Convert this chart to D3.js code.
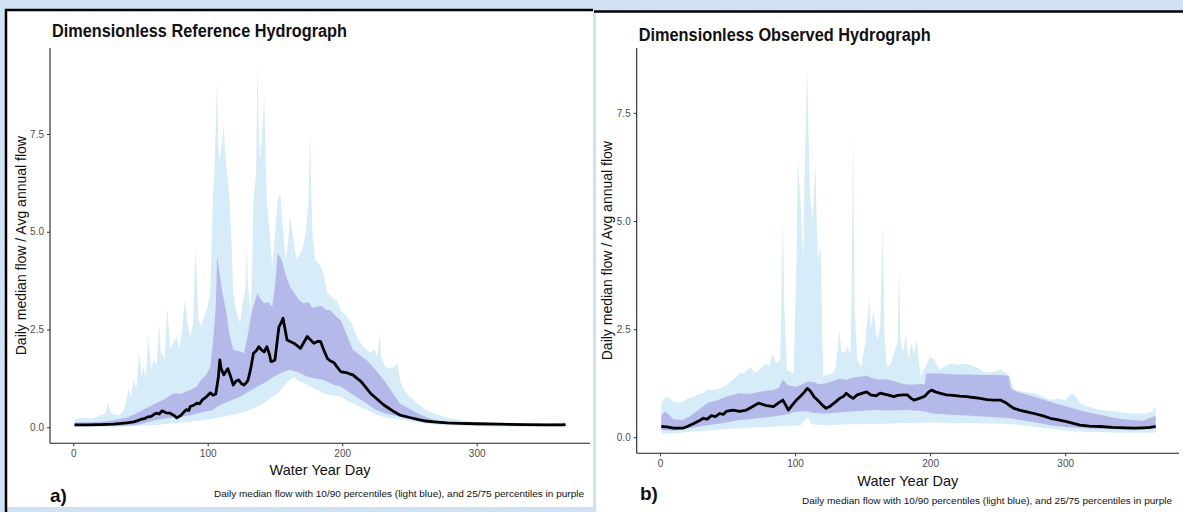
<!DOCTYPE html>
<html>
<head>
<meta charset="utf-8">
<script src="https://cdn.jsdelivr.net/npm/d3@7"></script>
<style>
  html, body { margin: 0; padding: 0; background: #cfe2f3; }
  svg { display: block; }
  .narrow { font-family: "Liberation Sans Narrow", "Arial Narrow", "Liberation Sans", Arial, sans-serif; }
  .sans { font-family: "Liberation Sans", Arial, sans-serif; }
</style>
</head>
<body>
<svg id="chart" width="1183" height="512"></svg>
<script>
// ---- data: [water year day, value] ----
const xTicks = [0, 100, 200, 300];
const yTicks = [0, 2.5, 5, 7.5];

// a) reference hydrograph
const refMedian = [[1,0.06],[10,0.06],[20,0.07],[30,0.08],[40,0.11],[45,0.14],[48,0.17],[50,0.2],[53,0.22],[55,0.26],[58,0.28],[60,0.33],[62,0.36],[64,0.34],[66,0.42],[69,0.37],[72,0.36],[75,0.3],[77,0.24],[80,0.3],[82,0.38],[84,0.45],[86,0.43],[87,0.53],[90,0.57],[92,0.62],[94,0.6],[96,0.7],[99,0.78],[102,0.88],[104,0.82],[106,0.85],[108,1.3],[109,1.72],[110,1.5],[112,1.34],[114,1.45],[115,1.5],[117,1.3],[119,1.08],[121,1.18],[123,1.21],[125,1.12],[127,1.08],[129,1.15],[130,1.21],[132,1.5],[134,1.89],[136,1.95],[138,2.06],[140,1.98],[142,1.93],[144,2.06],[146,1.85],[147,1.68],[149,1.7],[150,1.72],[152,2.3],[153,2.57],[155,2.7],[156,2.79],[157,2.6],[159,2.23],[161,2.2],[164,2.15],[166,2.1],[169,2.02],[172,2.2],[174,2.32],[176,2.25],[179,2.15],[182,2.2],[184,2.19],[186,2.0],[189,1.76],[191,1.7],[194,1.65],[196,1.55],[199,1.42],[203,1.4],[206,1.36],[208,1.34],[211,1.25],[213,1.2],[215,1.13],[218,1.0],[221,0.87],[225,0.75],[228,0.66],[231,0.57],[234,0.5],[237,0.43],[243,0.31],[250,0.25],[256,0.2],[262,0.16],[268,0.14],[278,0.11],[288,0.1],[300,0.09],[317,0.08],[335,0.07],[350,0.06],[364,0.06],[366,0.07]];
const refP75 = [[1,0.12],[10,0.13],[20,0.14],[30,0.18],[40,0.25],[47,0.36],[55,0.5],[62,0.62],[68,0.72],[75,0.87],[80,0.85],[87,0.95],[92,1.05],[95,1.21],[99,1.35],[102,1.55],[104,2.2],[106,3.08],[107,4.36],[109,3.9],[111,3.43],[114,2.92],[116,2.4],[119,1.98],[123,1.95],[127,1.89],[130,2.4],[133,3.0],[137,3.43],[139,3.3],[142,3.17],[145,3.2],[148,3.08],[150,3.6],[152,4.45],[155,4.28],[158,3.9],[161,3.6],[165,3.4],[168,3.25],[171,3.17],[175,3.2],[178,3.05],[181,3.08],[185,3.1],[188,3.0],[191,3.0],[195,2.85],[199,2.74],[203,2.4],[208,1.98],[213,1.85],[218,1.72],[224,1.5],[231,1.21],[237,0.9],[243,0.61],[250,0.47],[256,0.36],[262,0.26],[268,0.19],[278,0.14],[290,0.12],[310,0.1],[340,0.09],[366,0.1]];
const refP25 = [[1,0.03],[20,0.03],[40,0.04],[50,0.08],[62,0.19],[75,0.25],[87,0.31],[95,0.38],[104,0.44],[108,0.55],[112,0.61],[118,0.7],[124,0.78],[130,0.9],[137,1.04],[143,1.15],[149,1.29],[155,1.4],[161,1.47],[166,1.42],[169,1.38],[174,1.29],[180,1.25],[186,1.21],[190,1.15],[194,1.08],[199,1.04],[205,0.9],[211,0.77],[218,0.61],[225,0.45],[232,0.35],[243,0.27],[255,0.18],[268,0.1],[280,0.07],[300,0.05],[330,0.04],[366,0.04]];
const refP10 = [[1,0.01],[30,0.01],[50,0.03],[62,0.06],[75,0.1],[87,0.14],[100,0.2],[112,0.27],[120,0.33],[128,0.4],[137,0.53],[145,0.7],[152,0.87],[158,1.1],[162,1.25],[164,1.29],[167,1.2],[170,1.15],[174,1.08],[180,0.97],[186,0.87],[192,0.82],[199,0.78],[205,0.66],[212,0.55],[218,0.44],[225,0.33],[232,0.25],[243,0.19],[255,0.12],[268,0.07],[285,0.04],[310,0.02],[366,0.02]];
const refP90 = [[1,0.2],[8,0.25],[14,0.22],[20,0.3],[24,0.35],[26,0.62],[28,0.35],[34,0.3],[38,0.45],[41,0.95],[43,0.8],[45,1.21],[47,1.0],[49,1.89],[51,1.3],[52,1.55],[54,1.3],[56,2.32],[58,1.5],[60,1.72],[62,1.6],[64,2.66],[65,1.9],[66,1.9],[68,1.7],[70,3.08],[72,2.0],[74,2.15],[77,2.32],[79,2.0],[81,2.5],[83,3.26],[85,2.6],[87,2.32],[89,2.6],[91,4.62],[93,2.8],[95,2.57],[98,2.9],[100,3.08],[102,3.5],[103,4.79],[104,5.98],[105,6.5],[107,8.93],[108,7.0],[109,6.84],[111,7.4],[112,7.69],[113,7.0],[114,6.6],[116,5.98],[118,4.5],[119,3.43],[121,3.0],[124,2.66],[126,3.2],[128,3.5],[129,4.62],[130,3.6],[132,2.92],[133,4.0],[134,5.81],[136,6.5],[137,9.31],[138,7.5],[139,6.84],[140,7.2],[142,8.54],[143,7.0],[144,5.73],[146,5.0],[148,4.11],[150,4.9],[152,5.81],[154,5.98],[156,5.0],[158,4.28],[160,4.8],[161,5.39],[163,5.0],[166,4.28],[168,4.4],[171,4.62],[173,5.0],[175,5.8],[176,7.55],[177,6.0],[178,4.9],[180,4.28],[184,4.11],[187,3.8],[189,3.43],[192,3.35],[194,3.26],[196,3.26],[199,3.0],[201,2.92],[204,2.8],[207,2.66],[210,2.4],[212,2.23],[215,2.1],[218,1.98],[221,1.9],[224,2.0],[226,1.8],[228,2.4],[229,1.8],[232,1.55],[236,1.5],[239,1.55],[241,1.64],[243,1.2],[246,0.95],[250,0.8],[256,0.61],[262,0.45],[268,0.36],[274,0.28],[280,0.23],[290,0.17],[300,0.13],[320,0.11],[340,0.1],[355,0.1],[362,0.12],[366,0.15]];

// b) observed hydrograph
const obsMedian = [[1,0.25],[5,0.24],[10,0.21],[17,0.21],[21,0.26],[25,0.32],[29,0.38],[32,0.44],[35,0.42],[38,0.5],[41,0.48],[44,0.55],[47,0.53],[49,0.6],[54,0.63],[59,0.6],[64,0.63],[68,0.7],[73,0.79],[78,0.74],[84,0.71],[88,0.8],[91,0.86],[93,0.75],[95,0.63],[98,0.75],[101,0.86],[104,0.95],[107,1.05],[109,1.13],[111,1.08],[114,0.94],[117,0.85],[120,0.75],[123,0.67],[126,0.72],[130,0.82],[133,0.9],[136,0.95],[138,1.02],[140,0.96],[143,0.9],[146,0.98],[150,1.02],[153,1.05],[156,0.98],[160,0.96],[163,1.02],[166,1.0],[170,0.97],[173,0.94],[176,0.97],[180,0.98],[183,0.98],[186,0.9],[188,0.86],[192,0.9],[196,0.95],[199,1.05],[201,1.09],[204,1.05],[207,1.02],[212,0.98],[217,0.97],[222,0.95],[227,0.94],[232,0.92],[237,0.9],[242,0.87],[247,0.86],[252,0.86],[256,0.8],[259,0.73],[262,0.67],[266,0.63],[270,0.6],[274,0.57],[277,0.55],[283,0.5],[289,0.44],[295,0.4],[301,0.36],[306,0.32],[311,0.28],[318,0.26],[326,0.25],[335,0.23],[345,0.22],[351,0.21],[358,0.22],[363,0.23],[367,0.25]];
const obsP75 = [[1,0.5],[4,0.6],[10,0.42],[17,0.4],[22,0.48],[28,0.62],[35,0.79],[42,0.85],[50,0.95],[59,1.02],[66,1.0],[73,1.05],[79,1.08],[84,1.09],[88,1.15],[91,1.33],[95,1.2],[101,1.17],[105,1.22],[109,1.29],[114,1.28],[118,1.22],[123,1.25],[128,1.3],[133,1.36],[138,1.33],[143,1.38],[148,1.4],[153,1.42],[158,1.36],[163,1.33],[168,1.34],[173,1.3],[178,1.25],[183,1.22],[188,1.22],[193,1.23],[196,1.22],[197,1.47],[205,1.48],[215,1.46],[227,1.45],[240,1.44],[250,1.44],[258,1.42],[260,1.12],[265,1.05],[270,1.0],[277,0.94],[285,0.86],[293,0.78],[301,0.71],[310,0.63],[318,0.57],[326,0.52],[335,0.46],[343,0.42],[351,0.4],[358,0.38],[363,0.45],[367,0.5]];
const obsP25 = [[1,0.17],[10,0.15],[20,0.2],[35,0.28],[47,0.33],[59,0.4],[72,0.44],[84,0.48],[92,0.52],[101,0.59],[108,0.6],[115,0.56],[123,0.55],[135,0.58],[145,0.6],[158,0.63],[170,0.62],[183,0.63],[195,0.6],[202,0.55],[215,0.52],[230,0.5],[245,0.47],[259,0.44],[270,0.38],[280,0.33],[289,0.28],[300,0.24],[314,0.21],[330,0.19],[351,0.17],[367,0.2]];
const obsP10 = [[1,0.09],[10,0.09],[20,0.12],[35,0.16],[50,0.19],[65,0.22],[80,0.24],[95,0.26],[104,0.27],[107,0.4],[110,0.45],[112,0.3],[123,0.28],[140,0.3],[160,0.31],[183,0.33],[200,0.34],[220,0.33],[245,0.32],[259,0.31],[270,0.27],[280,0.23],[289,0.2],[300,0.16],[314,0.13],[335,0.11],[367,0.11]];
const obsP90 = [[1,0.79],[3,0.9],[5,0.94],[8,0.88],[10,0.82],[14,0.8],[17,0.82],[21,0.9],[25,0.94],[29,1.0],[32,1.03],[35,1.09],[40,1.1],[44,1.13],[49,1.2],[54,1.33],[57,1.4],[59,1.48],[63,1.5],[67,1.63],[70,1.5],[74,1.56],[78,1.7],[81,1.65],[83,1.94],[85,1.8],[86,1.71],[89,1.8],[90,3.5],[91,5.03],[92,3.0],[94,1.56],[97,1.5],[99,1.48],[101,4.0],[102,6.41],[104,5.5],[106,4.1],[107,6.0],[109,8.49],[110,7.0],[111,5.64],[113,5.0],[115,6.34],[116,5.0],[117,4.1],[119,4.41],[120,2.5],[121,1.4],[124,1.45],[128,1.48],[130,1.6],[133,2.48],[134,2.0],[136,1.94],[139,2.1],[141,1.9],[142,3.5],[143,7.18],[144,3.0],[146,1.79],[149,1.63],[152,2.2],[155,3.25],[156,2.5],[158,2.94],[160,2.4],[161,2.25],[163,2.6],[165,4.95],[166,2.5],[168,1.63],[171,1.7],[173,1.94],[176,2.2],[177,3.95],[178,2.3],[180,1.94],[182,2.4],[184,1.79],[186,2.2],[188,1.9],[190,2.25],[193,1.4],[196,1.6],[200,1.86],[203,1.8],[207,1.56],[211,1.65],[215,1.71],[220,1.68],[225,1.7],[230,1.67],[235,1.6],[239,1.52],[245,1.5],[252,1.56],[256,1.5],[259,1.4],[262,1.09],[270,1.05],[277,1.02],[283,0.95],[289,0.86],[295,0.9],[300,0.85],[304,1.0],[306,1.02],[309,0.9],[311,0.79],[318,0.7],[326,0.63],[335,0.6],[345,0.56],[351,0.55],[360,0.55],[364,0.6],[367,0.71]];

const caption = "Daily median flow with 10/90 percentiles (light blue), and 25/75 percentiles in purple";

const svg = d3.select("#chart");
const bandOuter = "#d6ecf8", bandInner = "#b5b9e9";

// panel frames
svg.append("rect").attr("width", 1183).attr("height", 512).attr("fill", "#cfe2f3");
svg.append("rect").attr("x", 6).attr("y", 10).attr("width", 587).attr("height", 497).attr("fill", "#fff");
svg.append("rect").attr("x", 596).attr("y", 11).attr("width", 587).attr("height", 501).attr("fill", "#fff");
svg.append("line").attr("x1", 6).attr("x2", 6).attr("y1", 9).attr("y2", 512).attr("stroke", "#000").attr("stroke-width", 2.5);
svg.append("line").attr("x1", 5).attr("x2", 593).attr("y1", 10).attr("y2", 10).attr("stroke", "#000").attr("stroke-width", 2.5);
svg.append("line").attr("x1", 594).attr("x2", 1183).attr("y1", 11.5).attr("y2", 11.5).attr("stroke", "#000").attr("stroke-width", 2.5);

function drawPanel(p) {
  const x = d3.scaleLinear().domain([-17.25, 384.25]).range([p.left, p.right]);
  const y = d3.scaleLinear().domain(p.yDomain).range([p.bottom, p.top]);
  const g = svg.append("g");

  const pt = d3.line().x((d) => x(d[0])).y((d) => y(d[1]));
  const band = (upper, lower) => pt(upper.concat(lower.slice().reverse())) + "Z";

  g.append("path").attr("d", band(p.p90, p.p10)).attr("fill", bandOuter);
  g.append("path").attr("d", band(p.p75, p.p25)).attr("fill", bandInner);
  g.append("path").attr("d", pt(p.median))
    .attr("fill", "none").attr("stroke", "#000").attr("stroke-width", 2.8)
    .attr("stroke-linejoin", "round");

  const xAxis = g.append("g").attr("transform", `translate(0,${p.bottom})`)
    .call(d3.axisBottom(x).tickValues(xTicks).tickSize(3).tickPadding(4).tickFormat(d3.format("d")));
  const yAxis = g.append("g").attr("transform", `translate(${p.left},0)`)
    .call(d3.axisLeft(y).tickValues(yTicks).tickSize(3).tickPadding(3).tickFormat(d3.format(".1f")));
  [xAxis, yAxis].forEach((a) => {
    a.select(".domain").attr("stroke", "#222").attr("stroke-width", 1.1).attr("d",
      a === xAxis ? `M${p.left},0H${p.right}` : `M0,${p.bottom}V${p.top}`);
    a.selectAll(".tick line").attr("stroke", "#333");
    a.selectAll(".tick text").attr("fill", "#4d4d4d").attr("class", "sans").style("font-size", "10px");
  });

  svg.append("text").attr("class", "narrow").attr("x", p.left + 2).attr("y", p.titleY)
    .attr("font-weight", "bold").style("font-size", "18px").attr("fill", "#111")
    .attr("textLength", p.titleLen).attr("lengthAdjust", "spacingAndGlyphs").text(p.title);
  svg.append("text").attr("class", "sans").attr("transform", `translate(${p.yLabelX},${(p.top + p.bottom) / 2}) rotate(-90)`)
    .attr("text-anchor", "middle").style("font-size", "14px").attr("fill", "#111")
    .text("Daily median flow / Avg annual flow");
  svg.append("text").attr("class", "sans").attr("x", (p.left + p.right) / 2).attr("y", p.xLabelY)
    .attr("text-anchor", "middle").style("font-size", "14.5px").attr("fill", "#111").text("Water Year Day");
  svg.append("text").attr("class", "narrow").attr("x", p.tagX).attr("y", p.tagY)
    .attr("font-weight", "bold").style("font-size", "19px").attr("fill", "#111").text(p.tag);
  // caption sized so its natural width already fits the panel
  svg.append("text").attr("class", "sans").attr("x", p.capX).attr("y", p.capY)
    .style("font-size", "9.2px").attr("fill", "#111")
    .attr("textLength", 370).attr("lengthAdjust", "spacingAndGlyphs").text(caption);
}

drawPanel({
  left: 50, right: 590, top: 48, bottom: 443.3, yDomain: [-0.41, 9.7],
  median: refMedian, p10: refP10, p25: refP25, p75: refP75, p90: refP90,
  title: "Dimensionless Reference Hydrograph", titleY: 37, titleLen: 295,
  yLabelX: 26, xLabelY: 475, tag: "a)", tagX: 50, tagY: 502, capX: 214, capY: 497,
});
drawPanel({
  left: 636.7, right: 1179, top: 48, bottom: 453.3, yDomain: [-0.37, 9.0],
  median: obsMedian, p10: obsP10, p25: obsP25, p75: obsP75, p90: obsP90,
  title: "Dimensionless Observed Hydrograph", titleY: 41, titleLen: 292,
  yLabelX: 612, xLabelY: 486, tag: "b)", tagX: 640, tagY: 500, capX: 802, capY: 504,
});
</script>
</body>
</html>
